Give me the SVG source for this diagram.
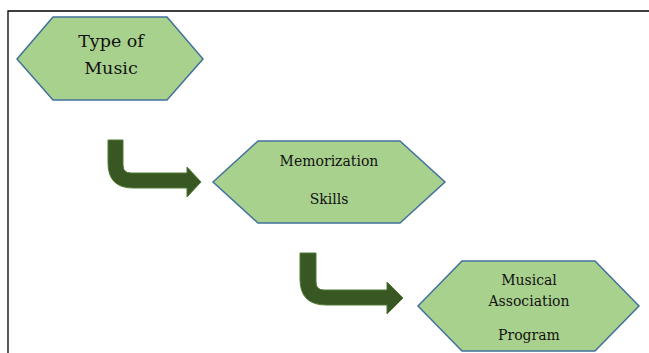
<svg xmlns="http://www.w3.org/2000/svg" width="649" height="353" viewBox="0 0 649 353">
<style>
.hex{fill:#a9d18e;stroke:#41719c;stroke-width:1.5}
.arr{fill:#385723;stroke:#4f7a35;stroke-width:1}
.t{fill:#111;text-anchor:middle}
.frame{stroke:#000;stroke-width:1.3;fill:none}
</style>
<rect width="649" height="353" fill="#fff"/>
<path class="frame" d="M8,353 V11 H649"/>
<g id="connectors">
<path class="arr" d="M108,140 H123 V165 Q123,173 131,173 H187 V167 L201,182 L187,197 V188 H133 Q108,188 108,163 Z"/>
<path class="arr" d="M300,253 H316 V282 Q316,290 324,290 H387 V282 L403,298 L387,314 V305 H326 Q300,305 300,279 Z"/>
</g>
<g font-family="'DejaVu Serif',serif">
<g id="node1">
<polygon class="hex" points="17,59 53,17 167,17 203,59 167,100 53,100"/>
<text class="t" x="111" y="47" font-size="17.5">Type of</text>
<text class="t" x="111" y="74" font-size="17.5">Music</text>
</g>
<g id="node2">
<polygon class="hex" points="213,182 258,141 400,141 445,182 400,223 258,223"/>
<text class="t" x="329" y="166" font-size="14">Memorization</text>
<text class="t" x="329" y="204" font-size="14">Skills</text>
</g>
<g id="node3">
<polygon class="hex" points="418,306 462,261 595,261 639,306 595,351 462,351"/>
<text class="t" x="529" y="285" font-size="14">Musical</text>
<text class="t" x="529" y="306" font-size="14">Association</text>
<text class="t" x="529" y="340" font-size="14">Program</text>
</g>
</g>
</svg>
